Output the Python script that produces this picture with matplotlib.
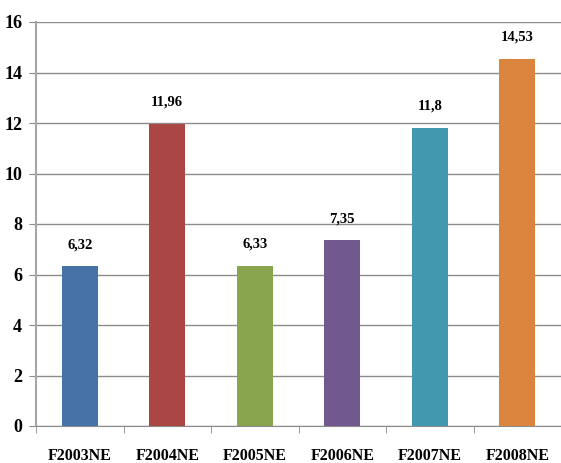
import matplotlib
matplotlib.use("Agg")
import matplotlib.pyplot as plt

categories = ["F2003NE", "F2004NE", "F2005NE", "F2006NE", "F2007NE", "F2008NE"]
values = [6.32, 11.96, 6.33, 7.35, 11.8, 14.53]
value_labels = ["6,32", "11,96", "6,33", "7,35", "11,8", "14,53"]
colors = ["#4672A8", "#AA4644", "#89A54E", "#71588F", "#4198AF", "#DB843D"]
yticks = [0, 2, 4, 6, 8, 10, 12, 14, 16]

plt.rcParams["font.family"] = ["Liberation Serif", "DejaVu Serif"]

fig = plt.figure(figsize=(5.61, 4.63), dpi=100)
ax = fig.add_axes([36 / 561, 1 - 426 / 463, 1 - 36 / 561, (426 - 22) / 463])

x = list(range(len(categories)))
ax.bar(x, values, width=0.41, color=colors, zorder=3)
for xi, v, lab in zip(x, values, value_labels):
    ax.annotate(lab, (xi, v), xytext=(0, 11), textcoords="offset points",
                ha="center", va="bottom", fontsize=10.5, fontweight="bold")

ax.set_xlim(-0.5, len(categories) - 0.5)
ax.set_ylim(0, 16)
ax.set_yticks(yticks)
ax.set_yticklabels([str(t) for t in yticks], fontsize=13, fontweight="bold")
ax.yaxis.grid(True, color="#8C8C8C", linewidth=1.0, zorder=0)

ax.set_xticks(x)
ax.set_xticklabels(categories, fontsize=11.5, fontweight="bold")
ax.set_xticks([i + 0.5 for i in range(-1, len(categories))], minor=True)
ax.tick_params(axis="x", which="major", length=0, pad=16)
ax.tick_params(axis="x", which="minor", length=5, color="#8C8C8C", direction="out")
ax.tick_params(axis="y", length=5, color="#8C8C8C", direction="out", pad=5)

for side in ["top", "right"]:
    ax.spines[side].set_visible(False)
ax.spines["left"].set_color("#A6A6A6")
ax.spines["left"].set_linewidth(1.5)
ax.spines["bottom"].set_color("#8C8C8C")

fig.savefig("out.png", dpi=100)
